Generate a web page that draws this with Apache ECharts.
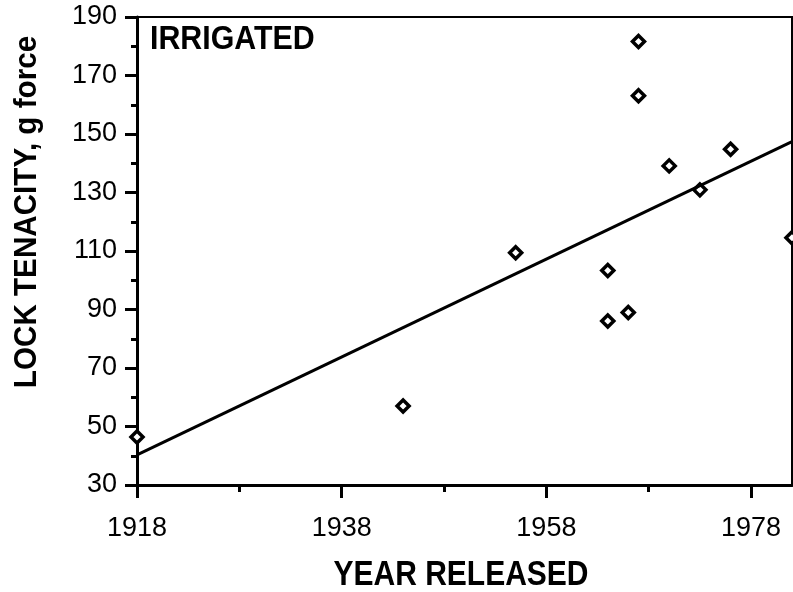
<!DOCTYPE html>
<html>
<head>
<meta charset="utf-8">
<script src="https://cdn.jsdelivr.net/npm/echarts@6/dist/echarts.min.js"></script>
<style>
html,body{margin:0;padding:0;background:#fff;}
#c{width:793px;height:592px;}
</style>
</head>
<body>
<div id="c"></div>
<script>
// Data
const years = [1918, 1944, 1955, 1964, 1964, 1966, 1967, 1967, 1970, 1973, 1976, 1982];
const tenacity = [46.4, 57.0, 109.4, 103.3, 86.1, 89.0, 181.6, 163.1, 139.1, 130.9, 144.8, 114.5];
const trendYears = [1918, 1982];
const trendValues = [40.3, 147.4];
const xMajorTicks = [1918, 1938, 1958, 1978];
const xMinorTicks = [1928, 1948, 1968];
const yMajorTicks = [30, 50, 70, 90, 110, 130, 150, 170, 190];
const yMinorTicks = [40, 60, 80, 100, 120, 140, 160, 180];

const FONT = "'Liberation Sans', Arial, Helvetica, sans-serif";

const chart = echarts.init(document.getElementById('c'));
const axisBase = {
  type: 'value',
  splitLine: {show: false},
  axisLine: {show: true, lineStyle: {color: '#000', width: 3}}
};
chart.setOption({
  animation: false,
  backgroundColor: '#fff',
  grid: {left: 137, right: 1, top: 17, bottom: 107, show: true, borderColor: '#000', borderWidth: 2, containLabel: false},
  xAxis: [
    Object.assign({}, axisBase, {
      min: 1918, max: 1982,
      axisTick: {show: true, customValues: xMajorTicks, length: 13, lineStyle: {color: '#000', width: 3}},
      axisLabel: {show: true, customValues: xMajorTicks, margin: 30, color: '#000', fontFamily: FONT, fontSize: 27,
                  formatter: v => String(v)}
    }),
    Object.assign({}, axisBase, {
      min: 1918, max: 1982, position: 'bottom',
      axisLine: {show: false},
      axisTick: {show: true, customValues: xMinorTicks, length: 7, lineStyle: {color: '#000', width: 3}},
      axisLabel: {show: false}
    })
  ],
  yAxis: [
    Object.assign({}, axisBase, {
      min: 30, max: 190,
      axisTick: {show: true, customValues: yMajorTicks, length: 12, lineStyle: {color: '#000', width: 3}},
      axisLabel: {show: true, customValues: yMajorTicks, margin: 20, color: '#000', fontFamily: FONT, fontSize: 27,
                  formatter: v => String(v)}
    }),
    Object.assign({}, axisBase, {
      min: 30, max: 190, position: 'left',
      axisLine: {show: false},
      axisTick: {show: true, customValues: yMinorTicks, length: 6, lineStyle: {color: '#000', width: 3}},
      axisLabel: {show: false}
    })
  ],
  graphic: [
    {type: 'text', x: 27, y: 212, rotation: Math.PI / 2, scaleX: 0.926,
     style: {text: 'LOCK TENACITY, g force', fill: '#000', font: "bold 32px " + FONT, align: 'center', verticalAlign: 'middle'}},
    {type: 'text', x: 461, y: 575, scaleX: 0.857,
     style: {text: 'YEAR RELEASED', fill: '#000', font: "bold 35px " + FONT, align: 'center', verticalAlign: 'middle'}},
    {type: 'text', x: 150, y: 40, scaleX: 0.92,
     style: {text: 'IRRIGATED', fill: '#000', font: "bold 33px " + FONT, align: 'left', verticalAlign: 'middle'}}
  ],
  series: [
    {
      type: 'line', xAxisIndex: 0, yAxisIndex: 0,
      data: trendYears.map((y, i) => [y, trendValues[i]]),
      symbol: 'none', clip: false,
      lineStyle: {color: '#000', width: 3}
    },
    {
      type: 'scatter', xAxisIndex: 0, yAxisIndex: 0,
      data: years.map((y, i) => [y, tenacity[i]]),
      symbol: 'diamond', symbolSize: 12, clip: false,
      itemStyle: {color: '#fff', borderColor: '#000', borderWidth: 3.5, opacity: 1}
    }
  ]
});
</script>
</body>
</html>
